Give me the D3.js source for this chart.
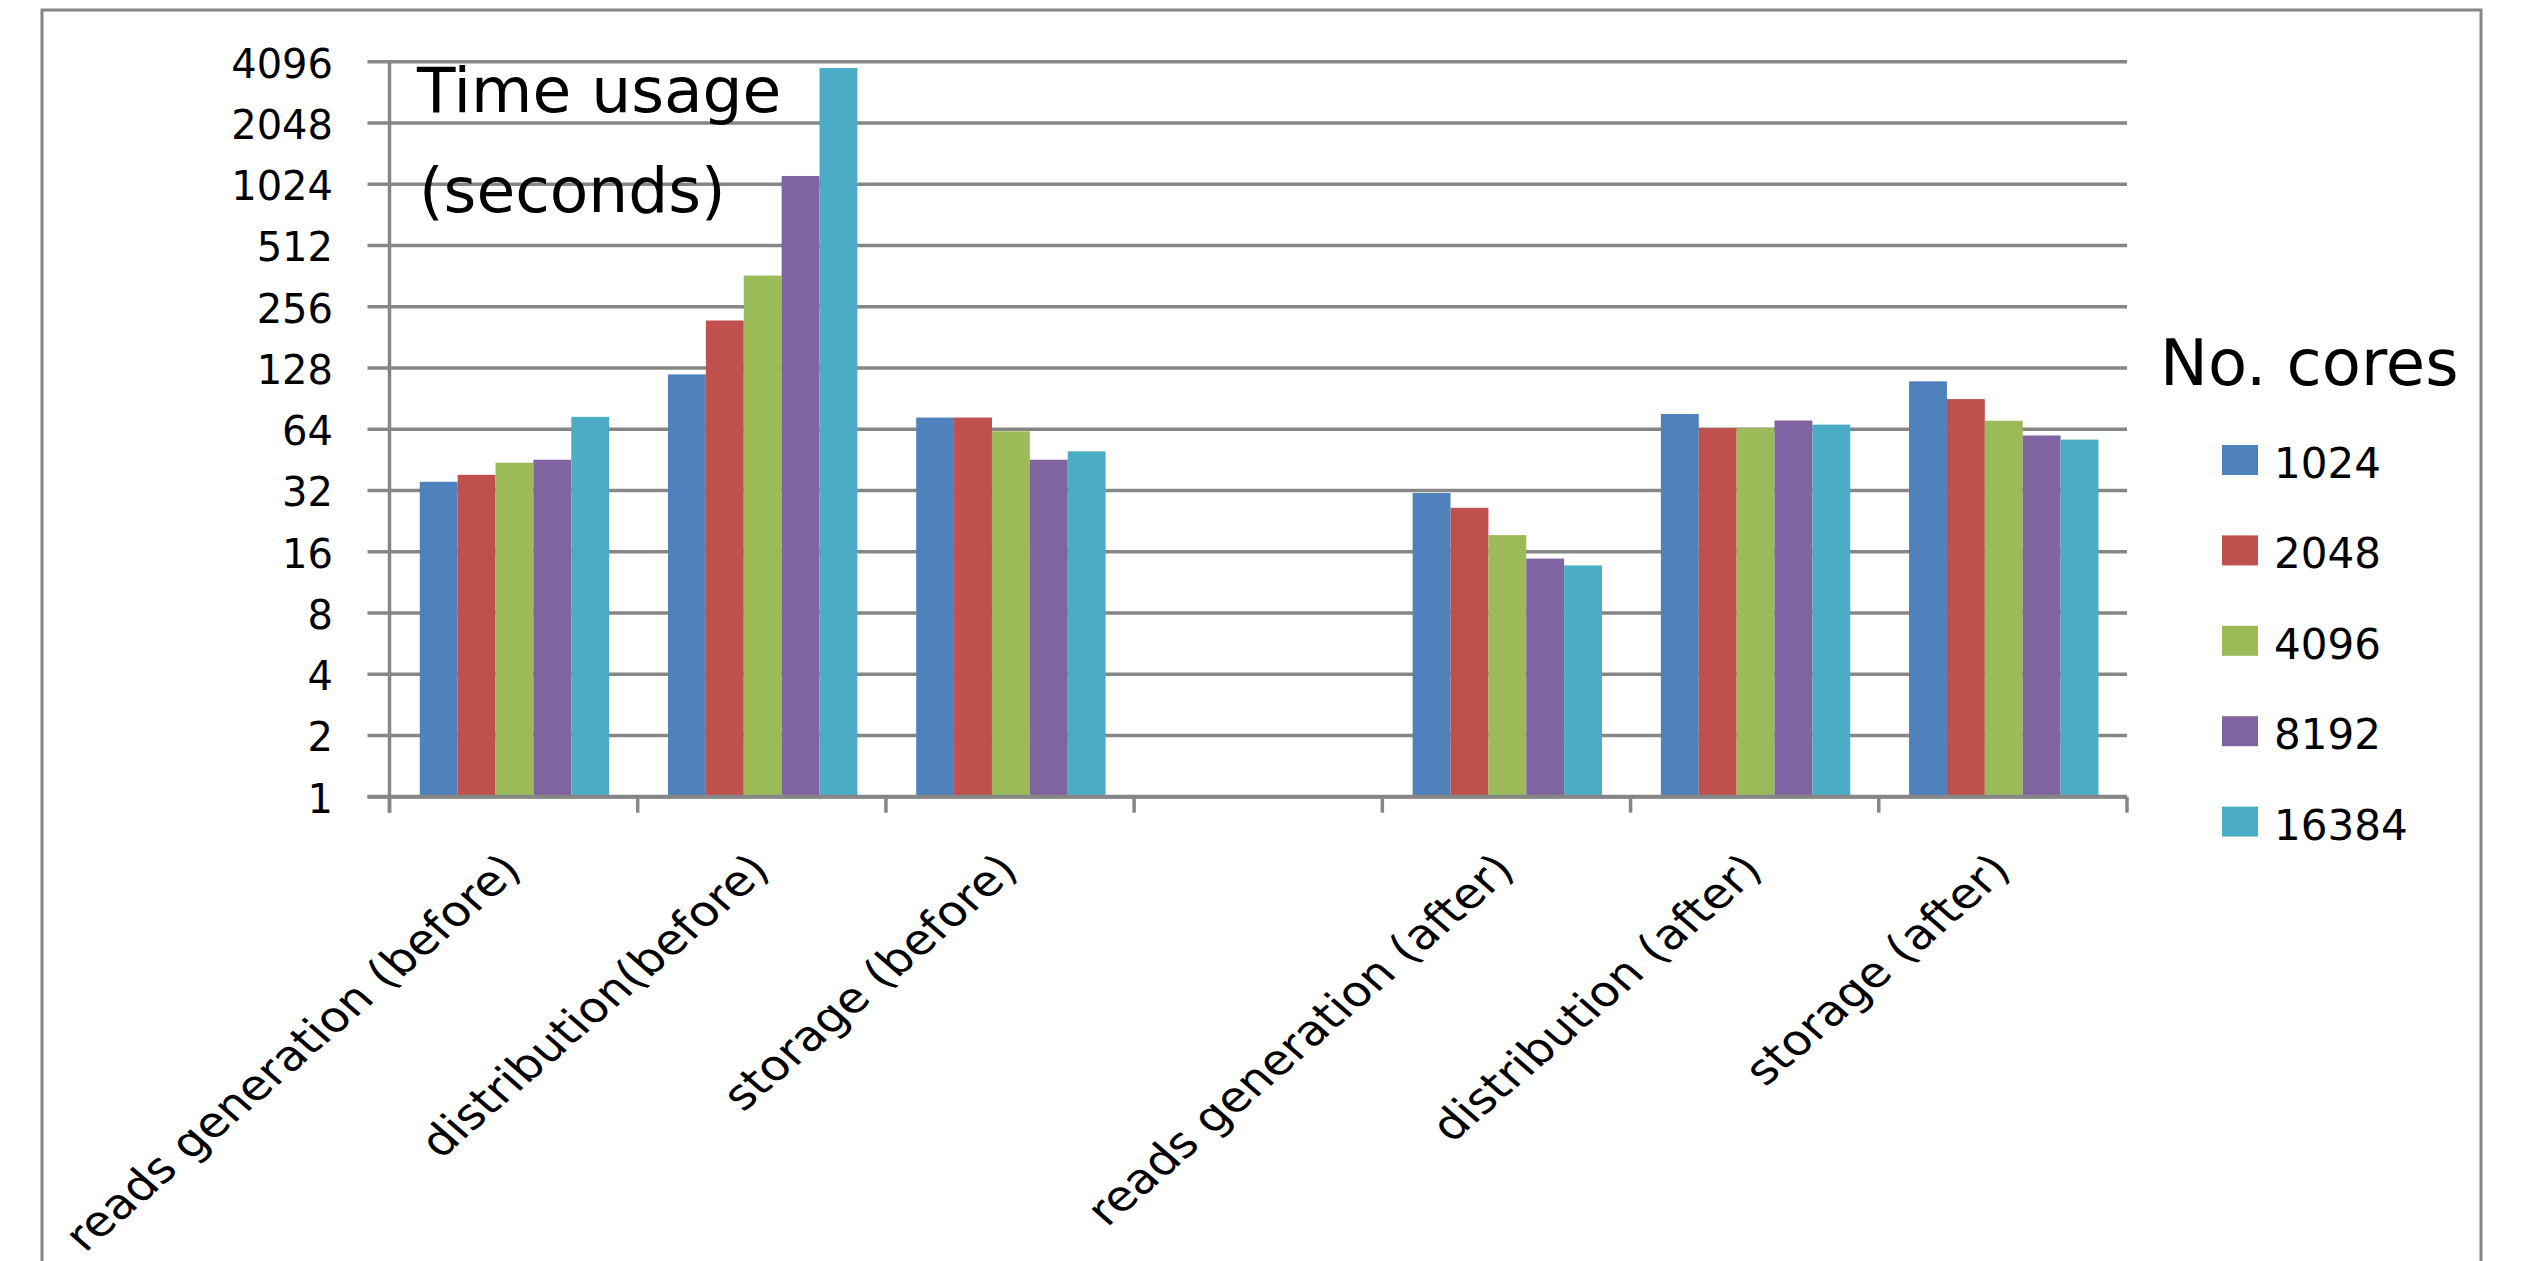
<!DOCTYPE html>
<html>
<head>
<meta charset="utf-8">
<script src="https://cdn.jsdelivr.net/npm/d3@7"></script>
<style>
	body { margin: 0; background: #fff; }
	text { font-family: "DejaVu Sans", sans-serif; fill: #000; }
</style>
</head>
<body>
<svg width="2534" height="1261"></svg>
<script>
// categories on the x axis (the 4th slot is left empty in the original)
var categories = ["reads generation (before)", "distribution(before)", "storage (before)", "",
	"reads generation (after)", "distribution (after)", "storage (after)"];
var coreCounts = ["1024", "2048", "4096", "8192", "16384"];
var colors = ["#4F81BD", "#C0504D", "#9BBB59", "#8064A2", "#4BACC6"];

// time usage in seconds, one array per core count
var t1024  = [35.3, 119, 73, null, 31.1, 76, 110];
var t2048  = [38.2, 219, 73, null, 26.3, 64.8, 90];
var t4096  = [43.8, 364, 62.5, null, 19.3, 64.8, 70.4];
var t8192  = [45.3, 1124, 45.3, null, 14.8, 70.6, 59.6];
var t16384 = [73.6, 3813, 49.8, null, 13.7, 67.4, 56.9];
var series = [t1024, t2048, t4096, t8192, t16384];

var yTicks = [1, 2, 4, 8, 16, 32, 64, 128, 256, 512, 1024, 2048, 4096];

var svg = d3.select("svg");
var plotLeft = 389.5, plotRight = 2127, plotTop = 61.7, plotBottom = 796.7;
var gridColor = "#868686";

// outer frame
svg.append("rect")
	.attr("x", 42).attr("y", 10)
	.attr("width", 2481 - 42).attr("height", 1400)
	.attr("fill", "none")
	.attr("stroke", gridColor)
	.attr("stroke-width", 3);

var x0 = d3.scaleBand().domain(d3.range(categories.length)).range([plotLeft, plotRight]);
var x1 = d3.scaleBand().domain(d3.range(coreCounts.length))
	.range([x0.bandwidth() * 0.122, x0.bandwidth() * 0.885]);
var y = d3.scaleLog().base(2).domain([1, 4096]).range([plotBottom, plotTop]);

// gridlines + y labels
var grid = svg.append("g");
grid.selectAll("line")
	.data(yTicks)
	.enter().append("line")
	.attr("x1", plotLeft - 22).attr("x2", plotRight)
	.attr("y1", function(d) { return y(d); })
	.attr("y2", function(d) { return y(d); })
	.attr("stroke", gridColor)
	.attr("stroke-width", 3.5);

grid.selectAll("text")
	.data(yTicks)
	.enter().append("text")
	.attr("x", 333)
	.attr("y", function(d) { return y(d) + 16; })
	.attr("text-anchor", "end")
	.style("font-size", "40px")
	.text(function(d) { return d; });

// y axis line
svg.append("line")
	.attr("x1", plotLeft).attr("x2", plotLeft)
	.attr("y1", plotTop).attr("y2", plotBottom + 16)
	.attr("stroke", gridColor).attr("stroke-width", 3.5);

// bars
var groups = svg.append("g").selectAll("g")
	.data(categories)
	.enter().append("g")
	.attr("transform", function(d, i) { return "translate(" + x0(i) + ",0)"; });

groups.selectAll("rect")
	.data(function(d, i) {
		return series.map(function(s, j) { return { k: j, v: s[i] }; }).filter(function(e) { return e.v != null; });
	})
	.enter().append("rect")
	.attr("x", function(d) { return x1(d.k); })
	.attr("width", x1.bandwidth())
	.attr("y", function(d) { return y(d.v); })
	.attr("height", function(d) { return plotBottom - y(d.v); })
	.attr("fill", function(d) { return colors[d.k]; });

// x axis line and ticks
svg.append("line")
	.attr("x1", plotLeft - 22).attr("x2", plotRight)
	.attr("y1", plotBottom).attr("y2", plotBottom)
	.attr("stroke", gridColor).attr("stroke-width", 4);

svg.append("g").selectAll("line")
	.data(d3.range(categories.length + 1))
	.enter().append("line")
	.attr("x1", function(i) { return plotLeft + i * x0.step(); })
	.attr("x2", function(i) { return plotLeft + i * x0.step(); })
	.attr("y1", plotBottom).attr("y2", plotBottom + 16)
	.attr("stroke", gridColor).attr("stroke-width", 3.5);

// rotated category labels (the original picture is stretched sideways a bit)
svg.append("g").selectAll("text")
	.data(categories)
	.enter().append("text")
	.attr("transform", function(d, i) {
		return "translate(" + (x0(i) + x0.bandwidth() / 2 + 10) + ",872) scale(1.15,1) rotate(-45)";
	})
	.attr("text-anchor", "end")
	.style("font-size", "42px")
	.text(function(d) { return d; });

// axis title inside plot
var title = svg.append("text").style("font-size", "63px");
title.append("tspan").attr("x", 417).attr("y", 112).text("Time usage");
title.append("tspan").attr("x", 419).attr("y", 212).text("(seconds)");

// legend
svg.append("text")
	.attr("x", 2160).attr("y", 385)
	.style("font-size", "64px")
	.text("No. cores");

var legend = svg.append("g").selectAll("g")
	.data(coreCounts)
	.enter().append("g")
	.attr("transform", function(d, i) { return "translate(2222," + (445 + i * 90.4) + ")"; });

legend.append("rect")
	.attr("width", 36).attr("height", 30)
	.attr("fill", function(d, i) { return colors[i]; });

legend.append("text")
	.attr("x", 52).attr("y", 33)
	.style("font-size", "42px")
	.text(function(d) { return d; });
</script>
</body>
</html>
